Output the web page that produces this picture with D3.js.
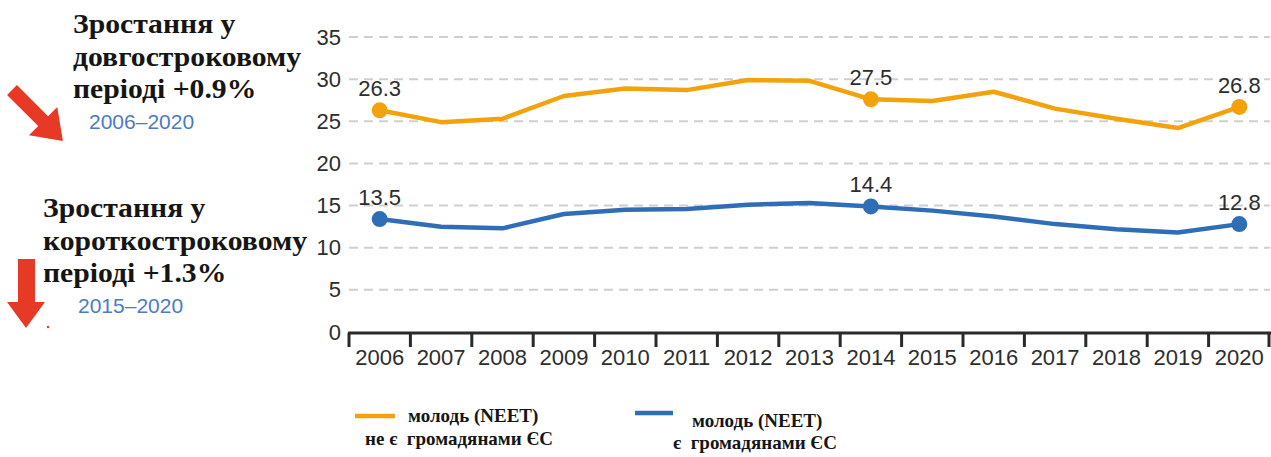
<!DOCTYPE html>
<html>
<head>
<meta charset="utf-8">
<script src="https://cdn.jsdelivr.net/npm/d3@7"></script>
<style>
  body { margin: 0; background: #fff; }
  svg { display: block; }
</style>
</head>
<body>
<svg id="chart" width="1271" height="457"></svg>
<script>
"use strict";

// === Data ===
const years = [2006, 2007, 2008, 2009, 2010, 2011, 2012, 2013, 2014, 2015, 2016, 2017, 2018, 2019, 2020];
const nonEU = [26.3, 24.9, 25.3, 28.0, 28.9, 28.7, 29.9, 29.8, 27.6, 27.4, 28.5, 26.5, 25.3, 24.2, 26.7];
const eu    = [13.4, 12.5, 12.3, 14.0, 14.5, 14.6, 15.1, 15.3, 14.9, 14.4, 13.7, 12.8, 12.2, 11.8, 12.8];
// labelled points: index into years, printed text
const nonEULabels = [{ i: 0, text: "26.3" }, { i: 8, text: "27.5" }, { i: 14, text: "26.8" }];
const euLabels    = [{ i: 0, text: "13.5" }, { i: 8, text: "14.4" }, { i: 14, text: "12.8" }];
const yTicks = [0, 5, 10, 15, 20, 25, 30, 35];

const ORANGE = "#f4a20c";
const BLUE = "#2f6db7";
const INK = "#2d2d2d";
const NUM_FONT = "Liberation Sans, Arial, sans-serif";
const SERIF = "Liberation Serif, Times New Roman, serif";

const svg = d3.select("#chart");

const x = d3.scaleBand().domain(years).range([349, 1270]).padding(0);
const y = d3.scaleLinear().domain([0, 35]).range([332, 37]);
const cx = d => x(d) + x.bandwidth() / 2;

// === Grid ===
svg.append("g").selectAll("line")
  .data(yTicks.filter(t => t > 0))
  .join("line")
  .attr("x1", 349).attr("x2", 1270)
  .attr("y1", d => y(d)).attr("y2", d => y(d))
  .attr("stroke", "#cfcfcf")
  .attr("stroke-width", 2)
  .attr("stroke-dasharray", "9,6");

// === Y axis labels ===
const yAxis = svg.append("g")
  .attr("transform", "translate(349,0)")
  .call(d3.axisLeft(y).tickValues(yTicks).tickSize(0).tickPadding(8));
yAxis.select(".domain").remove();
yAxis.selectAll("text")
  .attr("font-family", NUM_FONT)
  .attr("font-size", 22)
  .attr("fill", INK);

// === X axis ===
const xAxis = svg.append("g")
  .attr("transform", "translate(0,333)")
  .call(d3.axisBottom(x).tickSize(0).tickPadding(16));
xAxis.select(".domain").remove();
xAxis.selectAll("text")
  .attr("font-family", NUM_FONT)
  .attr("font-size", 22)
  .attr("fill", INK);
svg.append("line")
  .attr("x1", 348).attr("x2", 1271)
  .attr("y1", 333).attr("y2", 333)
  .attr("stroke", "#2a2a2a").attr("stroke-width", 3);
const bounds = years.map(d => x(d)).concat([x(years[years.length - 1]) + x.bandwidth()]);
svg.append("g").selectAll("line")
  .data(bounds)
  .join("line")
  .attr("x1", d => Math.min(d, 1269)).attr("x2", d => Math.min(d, 1269))
  .attr("y1", 333).attr("y2", 347)
  .attr("stroke", "#2a2a2a").attr("stroke-width", 3);

// === Lines ===
const line = d3.line().x((d, i) => cx(years[i])).y(d => y(d));

function series(values, labels, color) {
  svg.append("path")
    .attr("d", line(values))
    .attr("fill", "none")
    .attr("stroke", color)
    .attr("stroke-width", 4.5)
    .attr("stroke-linejoin", "round");
  svg.append("g").selectAll("circle")
    .data(labels)
    .join("circle")
    .attr("cx", d => cx(years[d.i]))
    .attr("cy", d => y(values[d.i]))
    .attr("r", 8)
    .attr("fill", color);
  svg.append("g").selectAll("text")
    .data(labels)
    .join("text")
    .attr("x", d => cx(years[d.i]))
    .attr("y", d => y(values[d.i]) - 14)
    .attr("text-anchor", "middle")
    .attr("font-family", NUM_FONT)
    .attr("font-size", 22)
    .attr("fill", INK)
    .text(d => d.text);
}
series(nonEU, nonEULabels, ORANGE);
series(eu, euLabels, BLUE);

// === Left annotations ===
function block(lines, x0, baselines, sub, subX, subY) {
  const g = svg.append("g");
  lines.forEach((t, i) => {
    g.append("text")
      .attr("transform", `translate(${x0},${baselines[i]}) scale(1.06,1)`)
      .attr("font-family", SERIF)
      .attr("font-weight", "bold")
      .attr("font-size", 28)
      .attr("fill", "#151515")
      .text(t);
  });
  g.append("text")
    .attr("x", subX).attr("y", subY)
    .attr("font-family", NUM_FONT)
    .attr("font-size", 21)
    .attr("fill", "#4a7cc4")
    .text(sub);
}
block(["Зростання у", "довгостроковому", "періоді +0.9%"], 73, [33, 66, 98], "2006–2020", 89, 129);
block(["Зростання у", "короткостроковому", "періоді +1.3%"], 43, [217, 250, 282], "2015–2020", 78, 313);

// === Red arrows ===
const RED = "#e63a26";
// diagonal arrow (down-right)
svg.append("path")
  .attr("d", "M0,-7 L44,-7 L44,-20 L72,0 L44,20 L44,7 L0,7 Z")
  .attr("transform", "translate(12,90) rotate(45)")
  .attr("fill", RED);
// vertical arrow (down)
svg.append("path")
  .attr("d", "M18,259 L35,259 L35,302 L45,302 L26,328 L7,302 L18,302 Z")
  .attr("fill", RED);
svg.append("circle").attr("cx", 48).attr("cy", 327).attr("r", 1.2).attr("fill", RED);

// === Legend ===
function legendItem(x1, x2, ly, color, t1, t1x, t1y, t2, t2x, t2y) {
  svg.append("line")
    .attr("x1", x1).attr("x2", x2).attr("y1", ly).attr("y2", ly)
    .attr("stroke", color).attr("stroke-width", 4.5);
  [[t1, t1x, t1y], [t2, t2x, t2y]].forEach(([t, tx, ty]) => {
    svg.append("text")
      .attr("x", tx).attr("y", ty)
      .attr("font-family", SERIF)
      .attr("font-weight", "bold")
      .attr("font-size", 19)
      .attr("fill", "#151515")
      .attr("xml:space", "preserve")
      .text(t);
  });
}
legendItem(355, 395, 416, ORANGE, "молодь (NEET)", 408, 422, "не є  громадянами ЄС", 365, 445);
legendItem(635, 673, 413, BLUE, "молодь (NEET)", 692, 427, "є  громадянами ЄС", 673, 449);
</script>
</body>
</html>
